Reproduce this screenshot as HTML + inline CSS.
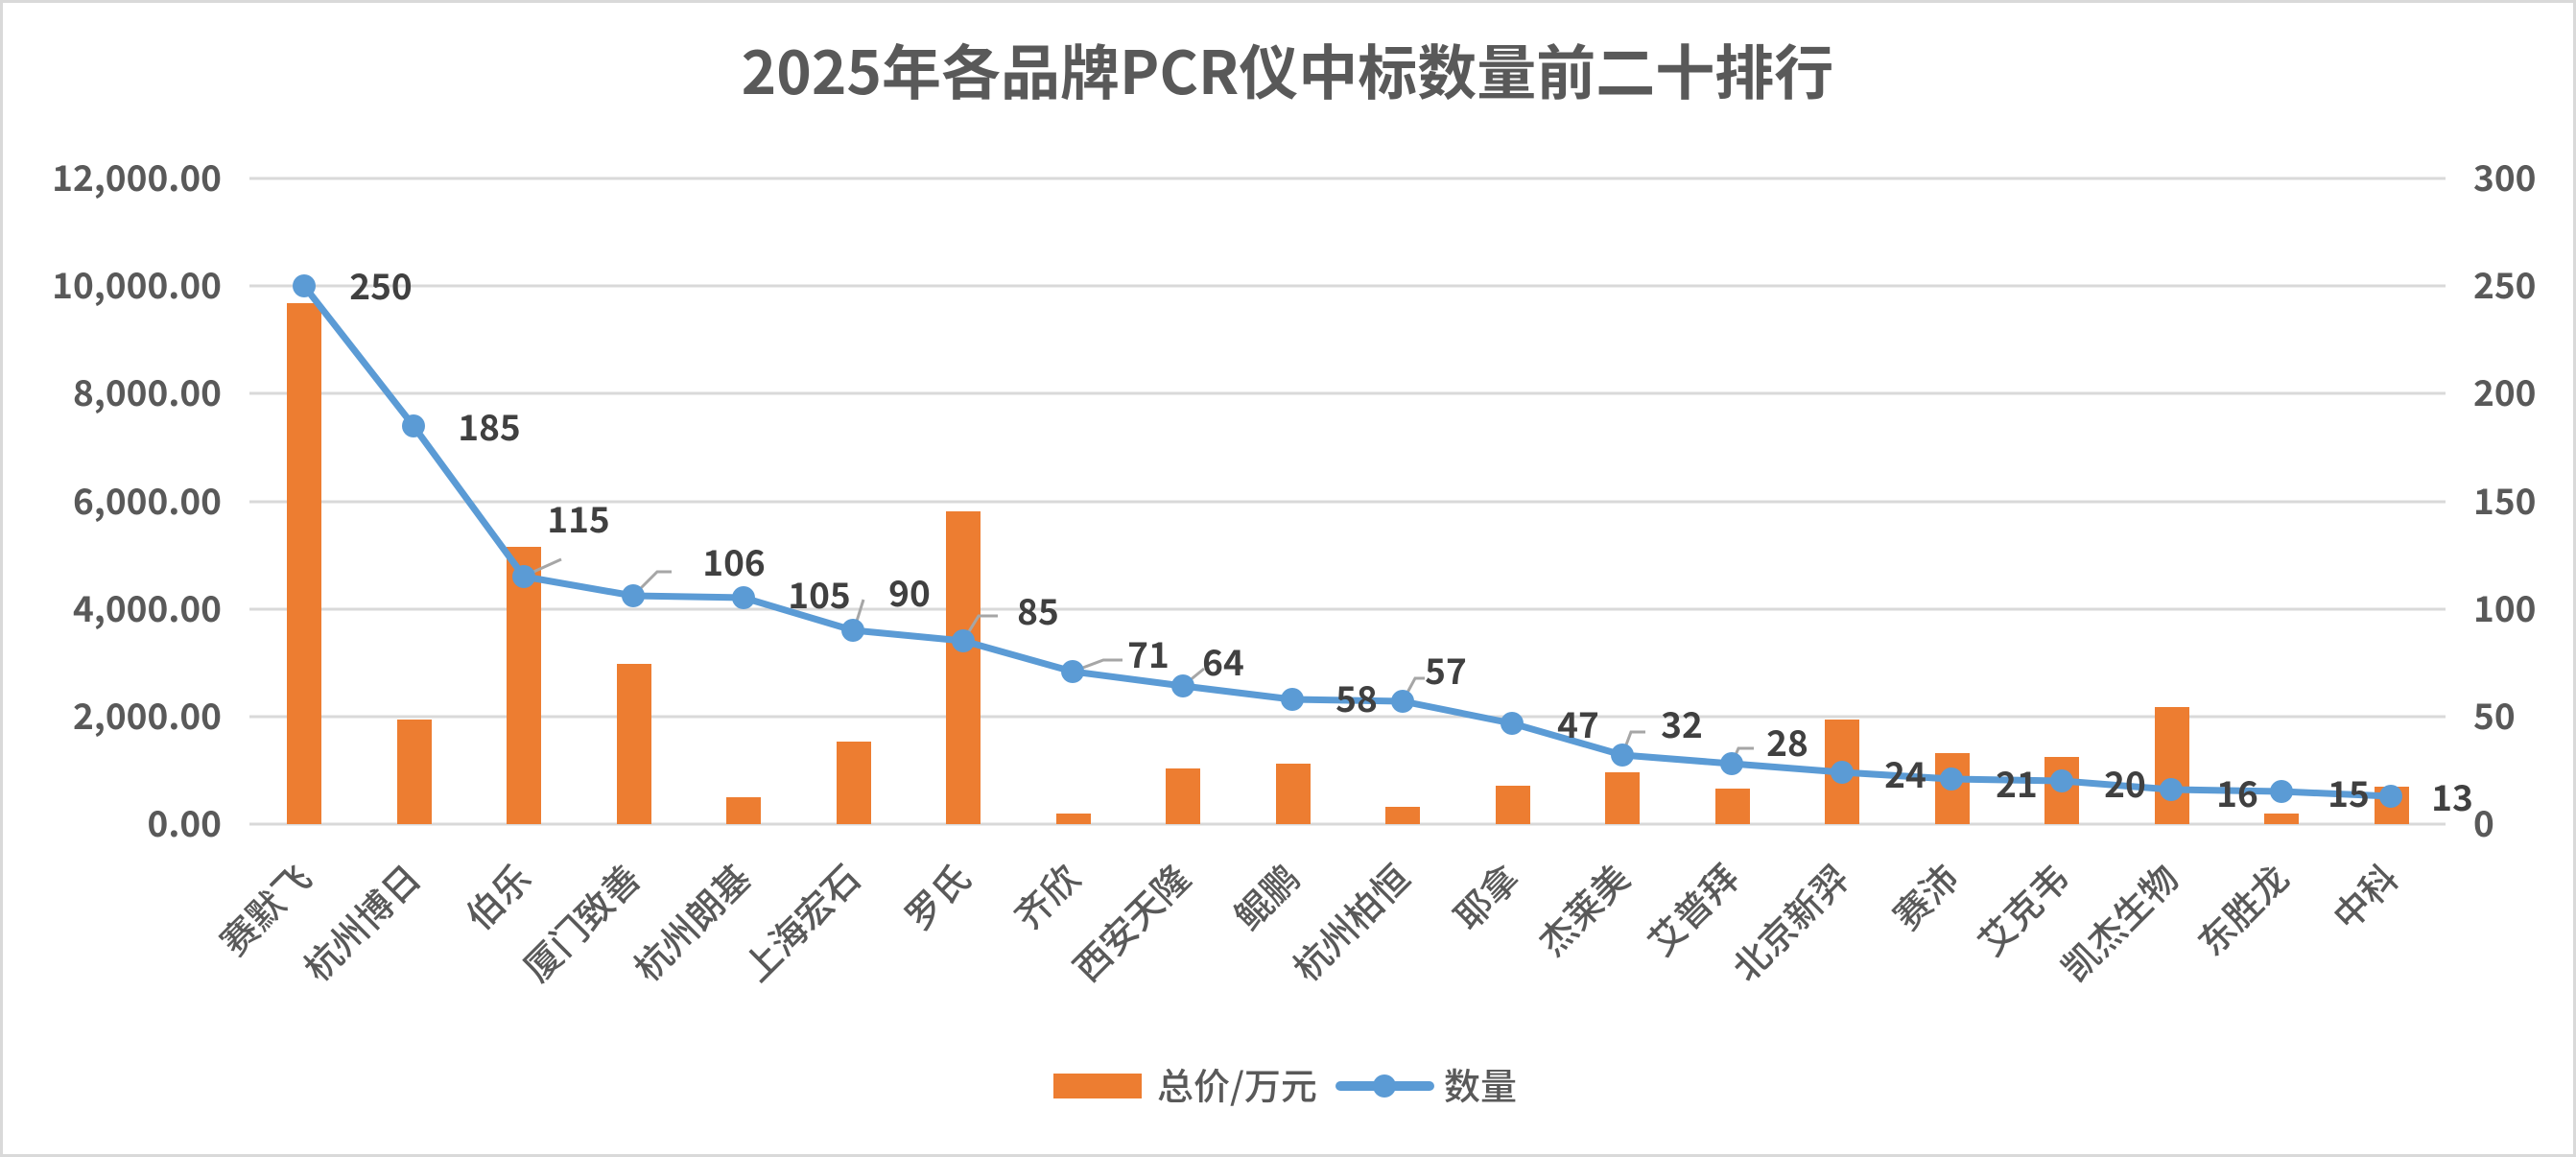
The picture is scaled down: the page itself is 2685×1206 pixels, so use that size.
<!DOCTYPE html>
<html><head><meta charset="utf-8"><style>
html,body{margin:0;padding:0;background:#fff}
svg{display:block;font-family:"Liberation Sans","Noto Sans CJK SC",sans-serif}
</style></head><body>
<svg width="2685" height="1206" viewBox="0 0 2685 1206" xmlns="http://www.w3.org/2000/svg">
<rect x="1.5" y="1.5" width="2682" height="1203" fill="#fff" stroke="#d9d9d9" stroke-width="3"/>
<text x="1342" y="98" text-anchor="middle" font-size="62" font-weight="bold" fill="#595959" style='font-family:"Noto Sans CJK SC",sans-serif'>2025年各品牌PCR仪中标数量前二十排行</text>
<g stroke="#d9d9d9" stroke-width="3">
<line x1="260" x2="2549" y1="186" y2="186"/><line x1="260" x2="2549" y1="298" y2="298"/>
<line x1="260" x2="2549" y1="410" y2="410"/><line x1="260" x2="2549" y1="523" y2="523"/>
<line x1="260" x2="2549" y1="635" y2="635"/><line x1="260" x2="2549" y1="747" y2="747"/>
<line x1="260" x2="2549" y1="859" y2="859"/>
</g>
<g font-size="37" font-weight="bold" fill="#595959" text-anchor="end" style='font-family:"Noto Sans CJK SC",sans-serif'>
<text x="231" y="199">12,000.00</text><text x="231" y="311">10,000.00</text>
<text x="231" y="423">8,000.00</text><text x="231" y="536">6,000.00</text>
<text x="231" y="648">4,000.00</text><text x="231" y="760">2,000.00</text>
<text x="231" y="872">0.00</text>
</g>
<g font-size="37" font-weight="bold" fill="#595959" text-anchor="start" style='font-family:"Noto Sans CJK SC",sans-serif'>
<text x="2578" y="199">300</text><text x="2578" y="311">250</text>
<text x="2578" y="423">200</text><text x="2578" y="536">150</text>
<text x="2578" y="648">100</text><text x="2578" y="760">50</text>
<text x="2578" y="872">0</text>
</g>
<g fill="#ed7d31">
<rect x="299" y="316" width="36" height="543"/>
<rect x="414" y="750" width="36" height="109"/>
<rect x="528" y="570" width="36" height="289"/>
<rect x="643" y="692" width="36" height="167"/>
<rect x="757" y="831" width="36" height="28"/>
<rect x="872" y="773" width="36" height="86"/>
<rect x="986" y="533" width="36" height="326"/>
<rect x="1101" y="848" width="36" height="11"/>
<rect x="1215" y="801" width="36" height="58"/>
<rect x="1330" y="796" width="36" height="63"/>
<rect x="1444" y="841" width="36" height="18"/>
<rect x="1559" y="819" width="36" height="40"/>
<rect x="1673" y="805" width="36" height="54"/>
<rect x="1788" y="822" width="36" height="37"/>
<rect x="1902" y="750" width="36" height="109"/>
<rect x="2017" y="785" width="36" height="74"/>
<rect x="2131" y="789" width="36" height="70"/>
<rect x="2246" y="737" width="36" height="122"/>
<rect x="2360" y="848" width="36" height="11"/>
<rect x="2475" y="820" width="36" height="39"/>
</g>
<g stroke="#a6a6a6" stroke-width="3" fill="none">
<polyline points="545,601 585,583"/>
<polyline points="660,621 685,596 700,596"/>
<polyline points="890,657 900,625"/>
<polyline points="1004,668 1020,642 1040,642"/>
<polyline points="1118,700 1150,688 1170,688"/>
<polyline points="1233,715 1255,697"/>
<polyline points="1462,731 1475,707 1485,707"/>
<polyline points="1691,787 1700,763 1715,763"/>
<polyline points="1805,796 1812,780 1828,780"/>
</g>
<polyline fill="none" stroke="#5b9bd5" stroke-width="7" stroke-linejoin="round" points="317,298 431,444 546,601 660,621 775,623 889,657 1004,668 1118,700 1233,715 1347,729 1462,731 1576,754 1691,787 1805,796 1920,805 2034,812 2149,814 2263,823 2378,825 2492,830"/>
<g fill="#5b9bd5">
<circle cx="317" cy="298" r="12"/><circle cx="431" cy="444" r="12"/><circle cx="546" cy="601" r="12"/><circle cx="660" cy="621" r="12"/><circle cx="775" cy="623" r="12"/><circle cx="889" cy="657" r="12"/><circle cx="1004" cy="668" r="12"/><circle cx="1118" cy="700" r="12"/><circle cx="1233" cy="715" r="12"/><circle cx="1347" cy="729" r="12"/><circle cx="1462" cy="731" r="12"/><circle cx="1576" cy="754" r="12"/><circle cx="1691" cy="787" r="12"/><circle cx="1805" cy="796" r="12"/><circle cx="1920" cy="805" r="12"/><circle cx="2034" cy="812" r="12"/><circle cx="2149" cy="814" r="12"/><circle cx="2263" cy="823" r="12"/><circle cx="2378" cy="825" r="12"/><circle cx="2492" cy="830" r="12"/>
</g>
<g font-size="37" font-weight="bold" fill="#404040" text-anchor="middle" dominant-baseline="central" style='font-family:"Noto Sans CJK SC",sans-serif'>
<text x="397" y="296">250</text><text x="510" y="443">185</text><text x="603" y="539">115</text>
<text x="765" y="584">106</text><text x="854" y="618">105</text><text x="948" y="616">90</text>
<text x="1082" y="635">85</text><text x="1197" y="680">71</text><text x="1275" y="688">64</text>
<text x="1414" y="726">58</text><text x="1507" y="697">57</text><text x="1645" y="753">47</text>
<text x="1753" y="753">32</text><text x="1863" y="772">28</text><text x="1986" y="805">24</text>
<text x="2102" y="815">21</text><text x="2215" y="815">20</text><text x="2332" y="825">16</text>
<text x="2448" y="825">15</text><text x="2556" y="829">13</text>
</g>
<g font-size="38" font-weight="500" fill="#595959" text-anchor="end" style='font-family:"Noto Sans CJK SC",sans-serif'>
<text transform="translate(327,918) rotate(-45)">赛默飞</text>
<text transform="translate(441,918) rotate(-45)">杭州博日</text>
<text transform="translate(556,918) rotate(-45)">伯乐</text>
<text transform="translate(670,918) rotate(-45)">厦门致善</text>
<text transform="translate(785,918) rotate(-45)">杭州朗基</text>
<text transform="translate(899,918) rotate(-45)">上海宏石</text>
<text transform="translate(1014,918) rotate(-45)">罗氏</text>
<text transform="translate(1128,918) rotate(-45)">齐欣</text>
<text transform="translate(1243,918) rotate(-45)">西安天隆</text>
<text transform="translate(1357,918) rotate(-45)">鲲鹏</text>
<text transform="translate(1472,918) rotate(-45)">杭州柏恒</text>
<text transform="translate(1586,918) rotate(-45)">耶拿</text>
<text transform="translate(1701,918) rotate(-45)">杰莱美</text>
<text transform="translate(1815,918) rotate(-45)">艾普拜</text>
<text transform="translate(1930,918) rotate(-45)">北京新羿</text>
<text transform="translate(2044,918) rotate(-45)">赛沛</text>
<text transform="translate(2159,918) rotate(-45)">艾克韦</text>
<text transform="translate(2273,918) rotate(-45)">凯杰生物</text>
<text transform="translate(2388,918) rotate(-45)">东胜龙</text>
<text transform="translate(2502,918) rotate(-45)">中科</text>
</g>
<rect x="1098" y="1119" width="92" height="26" fill="#ed7d31"/>
<g font-size="38" font-weight="500" fill="#595959" style='font-family:"Noto Sans CJK SC",sans-serif'>
<text x="1206" y="1146">总价/万元</text>
<text x="1505" y="1146">数量</text>
</g>
<line x1="1397" y1="1132" x2="1490" y2="1132" stroke="#5b9bd5" stroke-width="10" stroke-linecap="round"/>
<circle cx="1443" cy="1132" r="12" fill="#5b9bd5"/>
</svg>
</body></html>
